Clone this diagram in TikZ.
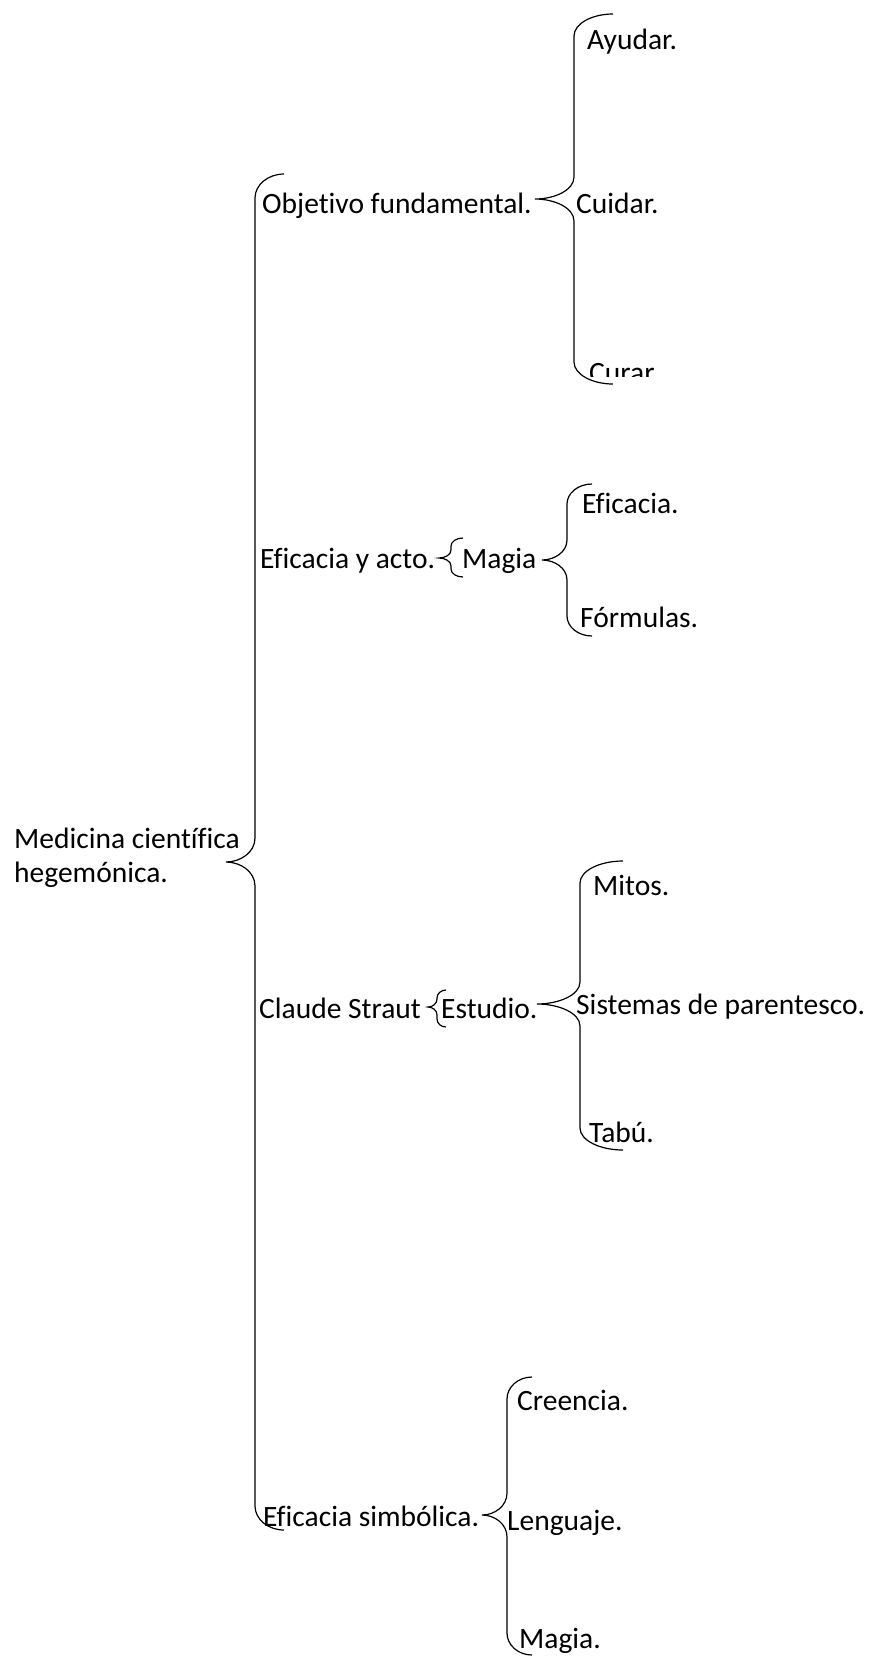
\documentclass[tikz,border=0pt]{standalone}
\usepackage{fontspec}
\setmainfont[Ligatures=NoCommon]{Carlito}
\usetikzlibrary{positioning}

% word-like curly brace: tip x, tip y, line x, top y, bottom y, hook size
\newcommand{\wbrace}[6]{%
  \draw[bracel] ({2*#3-#1},#4) .. controls ({#3+0.45*(#3-#1)},#4) and (#3,{#4+0.45*#6}) .. (#3,{#4+#6})
    -- (#3,{#2-#6}) .. controls (#3,{#2-0.4*#6}) and ({#1+0.5*(#3-#1)},#2) .. (#1,#2)
    .. controls ({#1+0.5*(#3-#1)},#2) and (#3,{#2+0.4*#6}) .. (#3,{#2+#6})
    -- (#3,{#5-#6}) .. controls (#3,{#5-0.45*#6}) and ({#3+0.45*(#3-#1)},#5) .. ({2*#3-#1},#5);}

\tikzset{
  item/.style={inner sep=0pt, anchor=base west, font=\fontsize{29.5}{34}\selectfont},
  bracel/.style={line width=1.2pt, black}
}

\begin{document}
\begin{tikzpicture}[x=1pt, y=-1pt]
    \useasboundingbox (0,0) rectangle (869,1658);

    % root
    \node[item, align=left] (medicina) at (14,882) {Medicina científica\\hegemónica.};
    \wbrace{226}{862}{255}{174}{1530}{24}

    % first branch
    \node[item] (objetivo) at (262,213) {Objetivo fundamental.};
    \wbrace{535}{199}{574}{14}{384}{22}
    \node[item] (ayudar) at (587,49) {Ayudar.};
    \node[item] (cuidar) at (576,213) {Cuidar.};
    \begin{scope}
        \clip (560,340) rectangle (700,376);
        \node[item] (curar) at (589,382) {Curar.};
    \end{scope}

    % second branch
    \node[item] (eficaciaacto) at (260,568) {Eficacia y acto.};
    \wbrace{439}{558}{451}{538}{577}{8}
    \node[item] (magia) at (462,568) {Magia};
    \wbrace{542}{560}{567}{484}{636}{20}
    \node[item] (eficacia) at (582,513) {Eficacia.};
    \node[item] (formulas) at (580,627) {Fórmulas.};

    % third branch
    \node[item] (claude) at (259,1018) {Claude Straut};
    \wbrace{428}{1007}{437}{990}{1027}{8}
    \node[item] (estudio) at (441,1018) {Estudio.};
    \wbrace{537}{1004}{580}{861}{1150}{22}
    \node[item] (mitos) at (593,895) {Mitos.};
    \node[item] (sistemas) at (576,1014) {Sistemas de parentesco.};
    \node[item] (tabu) at (589,1142) {Tabú.};

    % fourth branch
    \node[item] (simbolica) at (263,1526) {Eficacia simbólica.};
    \wbrace{482}{1515}{507}{1377}{1655}{22}
    \node[item] (creencia) at (517,1410) {Creencia.};
    \node[item] (lenguaje) at (507,1530) {Lenguaje.};
    \node[item] (magiab) at (519,1648) {Magia.};
\end{tikzpicture}
\end{document}
